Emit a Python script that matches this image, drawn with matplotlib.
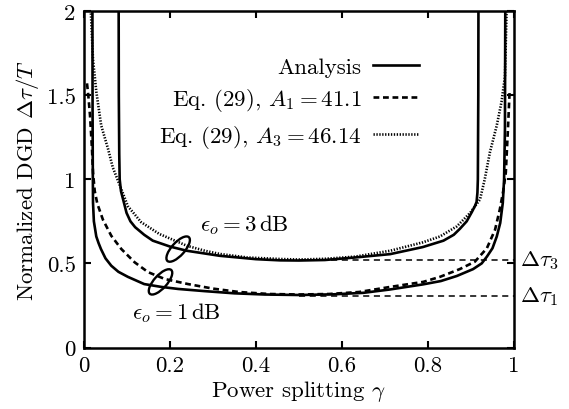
import matplotlib
matplotlib.use("Agg")
import matplotlib.pyplot as plt
from matplotlib.patches import Ellipse
from matplotlib.transforms import ScaledTranslation

plt.rcParams['font.family'] = 'serif'
plt.rcParams['font.serif'] = ['cmr10', 'DejaVu Serif']
plt.rcParams['mathtext.fontset'] = 'cm'
plt.rcParams['axes.formatter.use_mathtext'] = True

gamma_an1 = [0.0195, 0.020, 0.0205, 0.021, 0.023, 0.0286, 0.034, 0.0395, 0.05, 0.0635,
             0.08, 0.102, 0.14, 0.18, 0.219, 0.281, 0.35, 0.42, 0.5, 0.58, 0.65,
             0.712, 0.788, 0.83, 0.867, 0.905, 0.925, 0.937, 0.950, 0.960, 0.968,
             0.974, 0.977, 0.979, 0.980]
dgd_an1 = [2.2, 1.4, 1.05, 0.86, 0.75, 0.66, 0.62, 0.585, 0.53, 0.486,
           0.45, 0.42, 0.377, 0.36, 0.348, 0.335, 0.322, 0.315, 0.312, 0.316, 0.325,
           0.345, 0.375, 0.395, 0.425, 0.466, 0.50, 0.54, 0.59, 0.66, 0.74,
           0.86, 1.0, 1.3, 2.2]

gamma_an3 = [0.0805, 0.081, 0.082, 0.083, 0.086, 0.091, 0.099, 0.108, 0.119, 0.14,
             0.16, 0.2, 0.239, 0.316, 0.4, 0.456, 0.5, 0.56, 0.63, 0.712, 0.788,
             0.836, 0.86, 0.874, 0.89, 0.902, 0.909, 0.913, 0.915, 0.916, 0.917, 0.9175]
dgd_an3 = [2.2, 1.5, 1.15, 1.0, 0.93, 0.88, 0.80, 0.75, 0.715, 0.67,
           0.635, 0.60, 0.575, 0.545, 0.525, 0.518, 0.517, 0.52, 0.535, 0.555, 0.597,
           0.635, 0.67, 0.705, 0.75, 0.805, 0.84, 0.865, 0.92, 1.0, 1.5, 2.2]

gamma_eq1 = [0.007, 0.010, 0.014, 0.0186, 0.021, 0.025, 0.031, 0.044, 0.0635, 0.087,
             0.118, 0.149, 0.188, 0.242, 0.3, 0.36, 0.43, 0.5, 0.57, 0.64, 0.712,
             0.789, 0.828, 0.874, 0.909, 0.937, 0.956, 0.967, 0.975, 0.981, 0.986, 0.990]
dgd_eq1 = [1.57, 1.50, 1.38, 1.18, 1.04, 0.93, 0.855, 0.76, 0.664, 0.585,
           0.506, 0.448, 0.407, 0.377, 0.35, 0.33, 0.318, 0.315, 0.318, 0.33, 0.36,
           0.39, 0.42, 0.466, 0.51, 0.59, 0.70, 0.82, 0.93, 1.04, 1.3, 1.53]

gamma_eq3 = [0.0155, 0.021, 0.0287, 0.040, 0.056, 0.067, 0.087, 0.102, 0.133, 0.175,
             0.219, 0.239, 0.281, 0.316, 0.38, 0.456, 0.5, 0.56, 0.63, 0.712, 0.788,
             0.828, 0.867, 0.898, 0.921, 0.932, 0.944, 0.96, 0.971, 0.979, 0.983]
dgd_eq3 = [2.02, 1.71, 1.52, 1.32, 1.18, 1.07, 0.94, 0.84, 0.745, 0.675,
           0.627, 0.605, 0.575, 0.556, 0.535, 0.526, 0.523, 0.527, 0.54, 0.575, 0.625,
           0.66, 0.72, 0.80, 0.88, 1.0, 1.16, 1.32, 1.46, 1.61, 2.02]

tau1 = 0.307
tau3 = 0.52

fs = 16.5
fig = plt.figure(figsize=(5.69, 4.1), dpi=100)
ax = fig.add_axes([0.1476, 0.15, 0.7557, 0.8207])

lw = 1.9
l_an, = ax.plot(gamma_an1, dgd_an1, color='black', lw=lw, label='Analysis')
ax.plot(gamma_an3, dgd_an3, color='black', lw=lw)
l_eq1, = ax.plot(gamma_eq1, dgd_eq1, color='black', lw=lw, ls=(0, (2.2, 1.4)),
                 label=r'Eq. (29), $A_1 = 41.1$')
l_eq3, = ax.plot(gamma_eq3, dgd_eq3, color='black', lw=lw, ls=(0, (0.5, 0.6)),
                 label=r'Eq. (29), $A_3 = 46.14$')

ax.plot([0.5, 1.0], [tau3, tau3], color='black', lw=1.1, ls=(0, (4, 3)))
ax.plot([0.5, 1.0], [tau1, tau1], color='black', lw=1.1, ls=(0, (4, 3)))
ax.text(1.015, tau3, r'$\Delta\tau_3$', fontsize=fs, va='center', ha='left')
ax.text(1.015, tau1, r'$\Delta\tau_1$', fontsize=fs, va='center', ha='left')

ax.text(0.372, 0.734, r'$\epsilon_o = 3\,\mathrm{dB}$', fontsize=fs, ha='center', va='center')
ax.text(0.214, 0.21, r'$\epsilon_o = 1\,\mathrm{dB}$', fontsize=fs, ha='center', va='center')

# loops marking each pair of curves
for gx, gy in [(0.219, 0.585), (0.178, 0.39)]:
    tr = fig.dpi_scale_trans + ScaledTranslation(gx, gy, ax.transData)
    ax.add_patch(Ellipse((0, 0), 0.13, 0.32, angle=-42, fill=False, lw=1.7,
                         color='black', transform=tr, clip_on=False))

ax.set_xlim(0, 1)
ax.set_ylim(0, 2)
ax.set_xticks([0, 0.2, 0.4, 0.6, 0.8, 1])
ax.set_xticklabels(['0', '0.2', '0.4', '0.6', '0.8', '1'])
ax.set_yticks([0, 0.5, 1, 1.5, 2])
ax.set_yticklabels(['0', '0.5', '1', '1.5', '2'])
ax.tick_params(direction='in', top=True, right=True, length=5, width=1.5,
               labelsize=fs, pad=6)
for s in ax.spines.values():
    s.set_linewidth(1.8)

ax.set_xlabel(r'Power splitting $\gamma$', fontsize=fs, labelpad=2)
ax.set_ylabel(r'Normalized DGD $\Delta\tau/T$', fontsize=fs, labelpad=4)

ax.legend(handles=[l_an, l_eq1, l_eq3], loc='upper right', bbox_to_anchor=(0.80, 0.89),
          frameon=False, markerfirst=False, fontsize=fs, handlelength=2.0,
          handletextpad=0.5, labelspacing=0.4, borderaxespad=0)

fig.savefig('out.png', dpi=100)
